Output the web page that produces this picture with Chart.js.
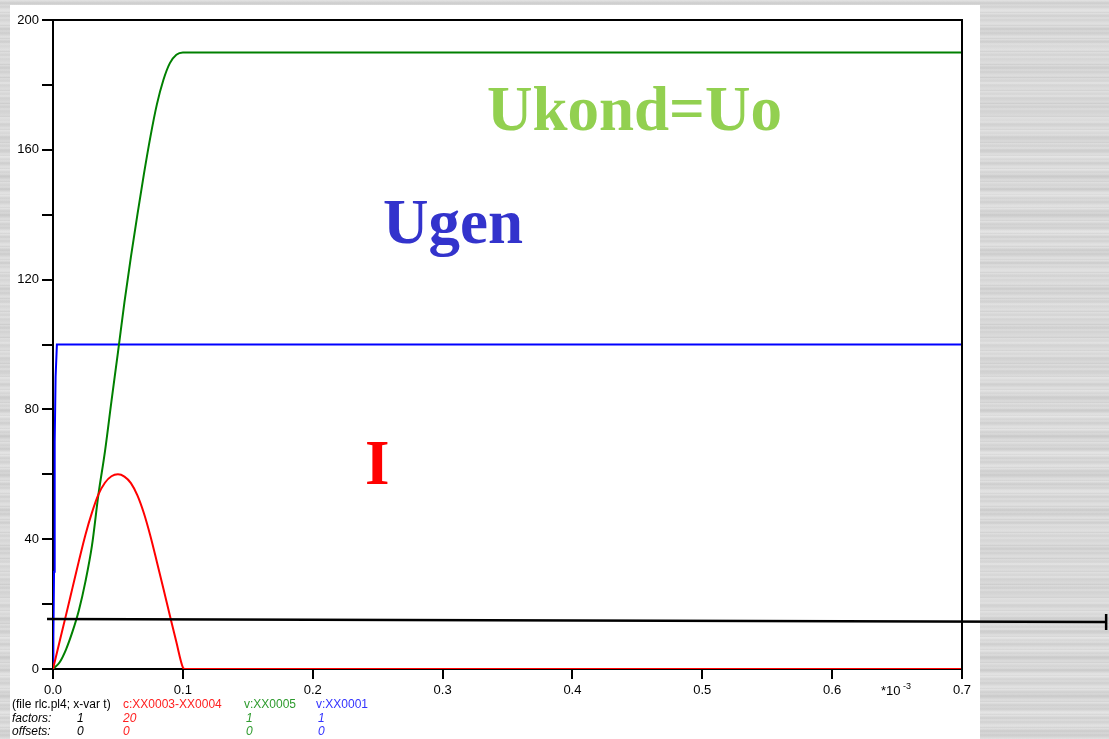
<!DOCTYPE html>
<html>
<head>
<meta charset="utf-8">
<title>rlc.pl4</title>
<script src="https://cdn.jsdelivr.net/npm/chart.js@4/dist/chart.umd.min.js"></script>
<style>
  html, body { margin: 0; padding: 0; }
  body {
    width: 1109px; height: 739px; overflow: hidden; position: relative;
    background-color: #d8d8d8;
    background-image:
      repeating-linear-gradient(180deg, rgba(255,255,255,0.25) 0px, rgba(255,255,255,0) 2px, rgba(0,0,0,0.03) 3px, rgba(255,255,255,0.15) 5px, rgba(0,0,0,0.04) 7px, rgba(255,255,255,0) 9px, rgba(255,255,255,0.2) 11px, rgba(0,0,0,0.03) 13px),
      repeating-linear-gradient(180deg, #dadada 0px, #d1d1d1 4px, #e0e0e0 9px, #d5d5d5 15px, #dddddd 22px, #d0d0d0 29px, #dadada 37px);
  }
  #sheet { position: absolute; left: 10px; top: 5px; width: 970px; height: 734px; background: #fff; }
  #plot { position: absolute; left: 0; top: 0; }
</style>
</head>
<body>
<div id="sheet"></div>
<canvas id="plot" width="1109" height="739"></canvas>
<script>
// time axis in ms (*10^-3 s)
const tGrid = [0, 0.005, 0.01, 0.015, 0.02, 0.025, 0.03, 0.035, 0.04, 0.045, 0.05,
               0.055, 0.06, 0.065, 0.07, 0.075, 0.08, 0.085, 0.09, 0.095, 0.1];
const tEnd = 0.7;

// c:XX0003-XX0004, current x20
const iCurrent = [0, 8.3, 16.6, 25, 33.4, 41.4, 48.2, 53.8, 57.4, 59.4, 60,
                  59.3, 57.3, 53.5, 48, 41, 33, 24.8, 16.5, 8.3, 0.5];
// v:XX0005, capacitor voltage
const uKond = [0, 2, 6, 11.5, 18.2, 27, 38, 53.8, 67, 82.5, 97.5,
               113, 127, 140, 152.5, 164, 174, 181.5, 186.7, 189.3, 190];
// v:XX0001, source voltage
const tGen = [0, 0.0003, 0.0008, 0.0013, 0.002, 0.003, tEnd];
const uGen = [0, 10, 30, 70, 90, 100, 100];

const xTicks = [0, 0.1, 0.2, 0.3, 0.4, 0.5, 0.6, 0.7];
const yTicks = [0, 20, 40, 60, 80, 100, 120, 140, 160, 180, 200];

const toPoints = (ts, vs) => ts.map((t, i) => ({ x: t, y: vs[i] }));

const currentPts = toPoints(tGrid, iCurrent).concat([{ x: 0.1015, y: 0 }, { x: tEnd, y: 0 }]);
const kondPts = toPoints(tGrid, uKond).concat([{ x: tEnd, y: 190 }]);
const genPts = toPoints(tGen, uGen);

const SANS = '"Liberation Sans", Arial, sans-serif';
const SERIF = '"Liberation Serif", "Times New Roman", serif';

// frame, marker line, slide captions and the plot header rows
const overlay = {
  id: 'overlay',
  afterDraw(chart) {
    const { ctx, chartArea: a, scales: { x, y } } = chart;
    ctx.save();
    ctx.strokeStyle = '#000';
    ctx.lineWidth = 2;
    ctx.beginPath();
    ctx.moveTo(a.left, a.top);
    ctx.lineTo(a.right, a.top);
    ctx.lineTo(a.right, a.bottom);
    ctx.stroke();

    // horizontal marker running out of the plot
    const x0 = x.getPixelForValue(-0.0046), x1 = x.getPixelForValue(0.811);
    const y0 = y.getPixelForValue(15.4), y1 = y.getPixelForValue(14.5);
    ctx.lineWidth = 2.5;
    ctx.beginPath();
    ctx.moveTo(x0, y0);
    ctx.lineTo(x1, y1);
    ctx.moveTo(x1, y1 - 8);
    ctx.lineTo(x1, y1 + 8);
    ctx.stroke();

    ctx.textBaseline = 'alphabetic';
    ctx.textAlign = 'left';
    ctx.font = 'bold 63px ' + SERIF;
    ctx.fillStyle = '#92D050';
    ctx.fillText('Ukond=Uo', 487, 130);
    ctx.fillStyle = '#3333CC';
    ctx.fillText('Ugen', 383, 243);
    ctx.fillStyle = '#FF0000';
    ctx.fillText('I', 365, 484);

    // x unit
    ctx.fillStyle = '#000';
    ctx.font = '13px ' + SANS;
    ctx.fillText('*10', 881, 695);
    ctx.font = '9px ' + SANS;
    ctx.fillText('-3', 903, 689);

    const cols = [12, 123, 244, 316];
    const colColors = ['#000', '#FF2020', '#2E9B2E', '#3333FF'];
    ctx.font = '12px ' + SANS;
    ['(file rlc.pl4; x-var t)', 'c:XX0003-XX0004', 'v:XX0005', 'v:XX0001'].forEach((s, i) => {
      ctx.fillStyle = colColors[i];
      ctx.fillText(s, cols[i], 708);
    });
    ctx.font = 'italic 12px ' + SANS;
    const rows = [['factors:', '1', '20', '1', '1'], ['offsets:', '0', '0', '0', '0']];
    const rowX = [12, 77, 123, 246, 318];
    const rowColors = ['#000', '#000', '#FF2020', '#2E9B2E', '#3333FF'];
    rows.forEach((r, j) => {
      r.forEach((s, i) => {
        ctx.fillStyle = rowColors[i];
        ctx.fillText(s, rowX[i], 722 + j * 13);
      });
    });
    ctx.restore();
  }
};

const ctx = document.getElementById('plot').getContext('2d');
new Chart(ctx, {
  type: 'line',
  data: {
    datasets: [
      { label: 'c:XX0003-XX0004', data: currentPts, borderColor: '#FF0000', cubicInterpolationMode: 'monotone' },
      { label: 'v:XX0005', data: kondPts, borderColor: '#008000', cubicInterpolationMode: 'monotone' },
      { label: 'v:XX0001', data: genPts, borderColor: '#0000FF' }
    ]
  },
  options: {
    responsive: false,
    animation: false,
    events: [],
    layout: { padding: { left: 0, right: 147, top: 20, bottom: 40 } },
    elements: {
      point: { radius: 0 },
      line: { borderWidth: 2, tension: 0, fill: false }
    },
    plugins: { legend: { display: false }, tooltip: { enabled: false } },
    scales: {
      x: {
        type: 'linear',
        min: 0,
        max: 0.7,
        afterFit: s => { s.height = 30; },
        afterBuildTicks: s => { s.ticks = xTicks.map(v => ({ value: v })); },
        border: { color: '#000', width: 2 },
        grid: { drawOnChartArea: false, color: '#000', lineWidth: 2, tickLength: 10 },
        ticks: {
          color: '#000', font: { family: SANS, size: 13 }, padding: 4,
          maxRotation: 0, autoSkip: false,
          callback: v => Number(v).toFixed(1)
        }
      },
      y: {
        min: 0,
        max: 200,
        afterFit: s => { s.width = 53; },
        afterBuildTicks: s => { s.ticks = yTicks.map(v => ({ value: v })); },
        border: { color: '#000', width: 2 },
        grid: { drawOnChartArea: false, color: '#000', lineWidth: 2, tickLength: 11 },
        ticks: {
          color: '#000', font: { family: SANS, size: 13 }, padding: 3,
          autoSkip: false,
          callback: v => (v % 40 === 0 ? String(v) : '')
        }
      }
    }
  },
  plugins: [overlay]
});
</script>
</body>
</html>
